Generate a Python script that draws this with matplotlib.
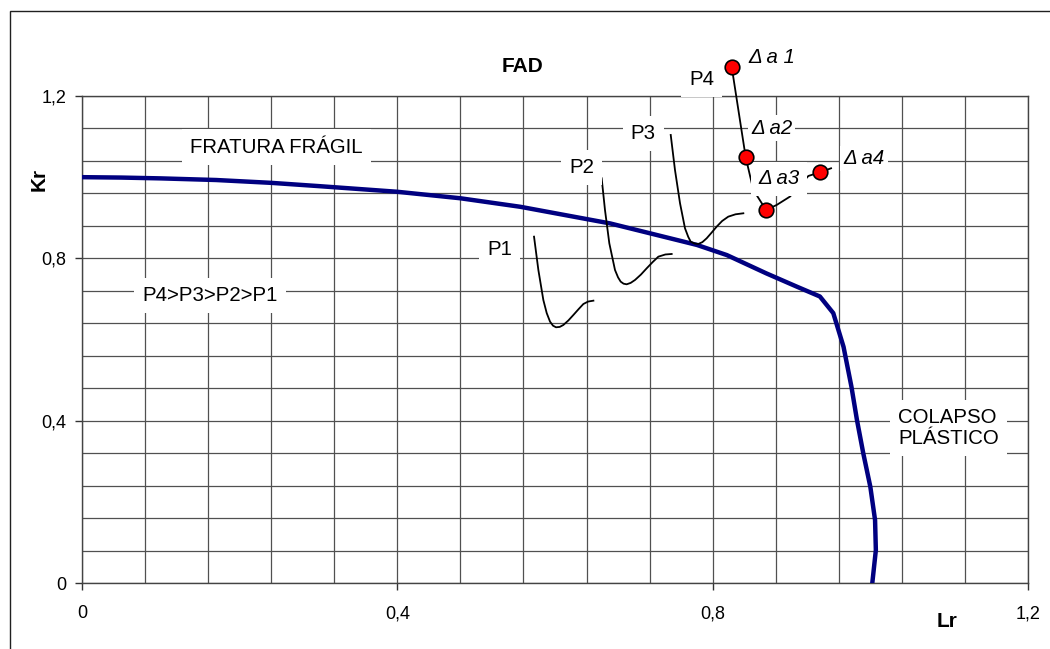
import matplotlib
matplotlib.use("Agg")
import matplotlib.pyplot as plt
from matplotlib.ticker import MultipleLocator, FixedLocator, FixedFormatter
from matplotlib.patches import Rectangle

plt.rcParams['font.family'] = ['Liberation Sans', 'DejaVu Sans']

# curva FAD
fad_lr = [0.0, 0.05, 0.10, 0.17, 0.24, 0.30, 0.40, 0.48, 0.556, 0.67, 0.78, 0.818, 0.868,
          0.907, 0.936, 0.953, 0.966, 0.976, 0.983, 0.991, 1.000, 1.006, 1.007, 1.0025]
fad_kr = [1.000, 0.999, 0.997, 0.993, 0.986, 0.978, 0.964, 0.948, 0.927, 0.886, 0.833, 0.808, 0.763,
          0.730, 0.706, 0.665, 0.582, 0.484, 0.402, 0.320, 0.237, 0.155, 0.081, 0.0]

# trajetorias P1..P3
p1_lr = [0.5734, 0.5789, 0.5852, 0.5895, 0.5937, 0.5975, 0.6013, 0.6060, 0.6106, 0.6170,
         0.6233, 0.6300, 0.6360, 0.6420, 0.6487]
p1_kr = [0.8534, 0.7713, 0.6974, 0.6650, 0.6440, 0.6340, 0.6301, 0.6310, 0.6358, 0.6470,
         0.6604, 0.6750, 0.6875, 0.6935, 0.6957]
p2_lr = [0.6592, 0.6634, 0.6689, 0.6761, 0.6800, 0.6833, 0.6870, 0.6909, 0.6960, 0.7015,
         0.7090, 0.7163, 0.7240, 0.7311, 0.7400, 0.7480]
p2_kr = [0.9972, 0.9192, 0.8370, 0.7713, 0.7530, 0.7426, 0.7375, 0.7360, 0.7395, 0.7467,
         0.7600, 0.7754, 0.7910, 0.8041, 0.8095, 0.8107]
p3_lr = [0.7468, 0.7522, 0.7586, 0.7649, 0.7690, 0.7721, 0.7770, 0.7818, 0.7870, 0.7924,
         0.7985, 0.8051, 0.8120, 0.8198, 0.8290, 0.8389]
p3_kr = [1.1040, 1.0177, 0.9356, 0.8740, 0.8530, 0.8412, 0.8365, 0.8354, 0.8400, 0.8494,
         0.8630, 0.8781, 0.8920, 0.9027, 0.9085, 0.9110]

# P4 com os pontos delta a
p4_lr = [0.8241, 0.8419, 0.8516, 0.8677, 0.8812, 0.8981, 0.9214, 0.9362, 0.9502]
p4_kr = [1.2724, 1.0490, 0.9685, 0.9192, 0.9315, 0.9522, 1.0030, 1.0120, 1.0219]
da_idx = [0, 1, 3, 7]

tick_vals = [0, 0.4, 0.8, 1.2]
tick_labels = ["0", "0,4", "0,8", "1,2"]

fig = plt.figure(figsize=(10.5, 6.49), dpi=100)
fig.patches.append(Rectangle((9.5 / 1050, -0.1), 1.2, 1.1 - 11 / 649,
                             transform=fig.transFigure, fill=False,
                             edgecolor='#202020', lw=1.0))
ax = fig.add_axes([82 / 1050, 1 - 583 / 649, 946 / 1050, 487 / 649])

ax.set_xlim(0, 1.2)
ax.set_ylim(0, 1.2)
ax.xaxis.set_major_locator(FixedLocator(tick_vals))
ax.xaxis.set_major_formatter(FixedFormatter(tick_labels))
ax.yaxis.set_major_locator(FixedLocator(tick_vals))
ax.yaxis.set_major_formatter(FixedFormatter(tick_labels))
ax.xaxis.set_minor_locator(MultipleLocator(0.08))
ax.yaxis.set_minor_locator(MultipleLocator(0.08))
ax.grid(True, which='both', color='#505050', lw=0.9)
ax.set_axisbelow(True)
ax.tick_params(which='minor', length=0)
ax.tick_params(which='major', length=5, width=1, color='#333333', labelsize=13)
ax.tick_params(axis='x', pad=11)
ax.tick_params(axis='y', pad=6)
for s in ax.spines.values():
    s.set_color('#444444')
    s.set_linewidth(1.0)

ax.plot(fad_lr, fad_kr, color='#000080', lw=3.2, zorder=3, solid_joinstyle='round')
for lr, kr in [(p1_lr, p1_kr), (p2_lr, p2_kr), (p3_lr, p3_kr)]:
    ax.plot(lr, kr, color='black', lw=1.3, zorder=4, solid_joinstyle='round')
ax.plot(p4_lr, p4_kr, color='black', lw=1.3, zorder=4, clip_on=False)
ax.plot([p4_lr[i] for i in da_idx], [p4_kr[i] for i in da_idx], 'o',
        color='red', mec='black', mew=1.2, ms=10.5, zorder=6, clip_on=False)

box = dict(facecolor='white', edgecolor='none', boxstyle='square,pad=0.4')
lab = dict(fontsize=14.7, ha='center', va='center', zorder=5, bbox=box)
ax.text(0.247, 1.074, "FRATURA FRÁGIL", **lab)
ax.text(0.162, 0.708, "P4>P3>P2>P1", **lab)
ax.text(0.530, 0.821, "P1", **lab)
ax.text(0.634, 1.023, "P2", **lab)
ax.text(0.712, 1.108, "P3", **lab)
ax.text(0.786, 1.240, "P4", **lab)
ax.text(1.099, 0.382, "COLAPSO\nPLÁSTICO", fontsize=14.7, ha='center', va='center',
        ma='left', zorder=5, bbox=box, linespacing=1.1)

dbox = dict(facecolor='white', edgecolor='none', boxstyle='square,pad=0.15')
dlab = dict(fontsize=14.7, ha='center', va='center', zorder=5, style='italic')
ax.text(0.875, 1.294, "Δ a 1", bbox=dbox, **dlab)
ax.text(0.875, 1.121, "Δ a2", bbox=dbox, **dlab)
ax.text(0.884, 0.996, "Δ a3", bbox=dict(dbox, boxstyle='square,pad=0.38'), **dlab)
ax.text(0.992, 1.047, "Δ a4", bbox=dbox, **dlab)

ax.text(0.559, 1.272, "FAD", fontsize=15, fontweight='bold', ha='center', va='center')
fig.text(39 / 1050, 1 - 179 / 649, "Kr", fontsize=15, fontweight='bold',
         rotation=90, ha='center', va='center')
fig.text(947 / 1050, 1 - 621.5 / 649, "Lr", fontsize=15, fontweight='bold',
         ha='center', va='center')

fig.savefig("out.png", dpi=100)
